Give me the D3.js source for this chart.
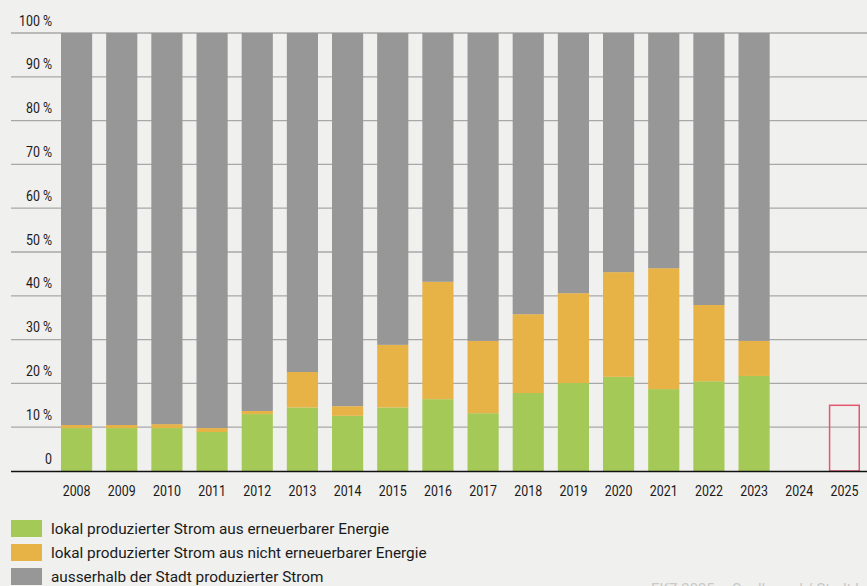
<!DOCTYPE html>
<html><head><meta charset="utf-8">
<script src="https://cdn.jsdelivr.net/npm/d3@7"></script>
<style>
html,body{margin:0;padding:0;background:#f0f0ef;}
svg{display:block;}
text{font-family:Roboto,"Liberation Sans",sans-serif;fill:#1a1a1a;}
</style></head>
<body>
<svg id="chart" width="867" height="586"></svg>
<script>
const years = ["2008","2009","2010","2011","2012","2013","2014","2015","2016","2017","2018","2019","2020","2021","2022","2023","2024","2025"];
const renewable    = [9.8, 9.8, 9.8, 8.9, 13.0, 14.5, 12.6, 14.5, 16.4, 13.2, 17.8, 20.1, 21.5, 18.7, 20.5, 21.7, null, null];
const nonRenewable = [0.7, 0.7, 0.9, 0.9, 0.7, 8.1, 2.2, 14.3, 26.8, 16.5, 18.0, 20.5, 23.9, 27.6, 17.4, 8.0, null, null];
const targetYears = ["2025"];
const targetValues = [15];
const yTicks = [0,10,20,30,40,50,60,70,80,90,100];
const seriesNames = ["lokal produzierter Strom aus erneuerbarer Energie","lokal produzierter Strom aus nicht erneuerbarer Energie","ausserhalb der Stadt produzierter Strom"];
const seriesColors = ["#a5c957","#e7b246","#979797"];
const sourceText = "EKZ 2025 – Quelle: ewl / Stadt Luzern";

const svg = d3.select("#chart");
const x = d3.scaleBand().domain(years).range([54, 867]).paddingInner(0.31).paddingOuter(0.155);
const y = d3.scaleLinear().domain([0,100]).range([471, 33]);

const numScale = 0.8, legScale = 0.99;

// gridlines
svg.append("g").selectAll("line").data(yTicks.filter(d=>d>0)).join("line")
  .attr("x1", 11).attr("x2", 867)
  .attr("y1", d=>y(d)).attr("y2", d=>y(d))
  .attr("stroke", "#a8a8a8").attr("stroke-width", 1.3);

// y labels
svg.append("g").selectAll("text").data(yTicks).join("text")
  .attr("transform", d=>`translate(52,${y(d)-7.5}) scale(${numScale},1)`)
  .attr("text-anchor","end").attr("font-size", 15.5)
  .text(d => d===0 ? "0" : d + " %");

// stacked data
const rows = years.map((yr,i)=>({year:yr, r:renewable[i], n:nonRenewable[i]})).filter(d=>d.r!==null);
const stackData = rows.map(d=>({year:d.year, s0:d.r, s1:d.n, s2:100-d.r-d.n}));
const stack = d3.stack().keys(["s0","s1","s2"]);
const layers = stack(stackData);
svg.append("g").selectAll("g").data(layers).join("g")
  .attr("fill", (d,i)=>seriesColors[i])
  .selectAll("rect").data(d=>d).join("rect")
  .attr("x", d=>x(d.data.year))
  .attr("width", x.bandwidth())
  .attr("y", d=>y(d[1]))
  .attr("height", d=>y(d[0])-y(d[1]));

// target boxes
svg.append("g").selectAll("rect").data(targetYears.map((t,i)=>({year:t, v:targetValues[i]}))).join("rect")
  .attr("x", d=>x(d.year)+0.75)
  .attr("width", x.bandwidth()-1.5)
  .attr("y", d=>y(d.v))
  .attr("height", d=>y(0)-y(d.v))
  .attr("fill","none").attr("stroke","#e5566f").attr("stroke-width",1.5);

// baseline
svg.append("line").attr("x1",11).attr("x2",867).attr("y1",y(0)+0.5).attr("y2",y(0)+0.5)
  .attr("stroke","#111").attr("stroke-width",1.6);

// x labels
svg.append("g").selectAll("text").data(years).join("text")
  .attr("transform", d=>`translate(${x(d)+x.bandwidth()/2},496) scale(${numScale},1)`)
  .attr("text-anchor","middle").attr("font-size", 15.5)
  .text(d=>d);

// legend
const lg = svg.append("g").selectAll("g").data(seriesNames).join("g")
  .attr("transform", (d,i)=>`translate(11,${520+i*24})`);
lg.append("rect").attr("width",31).attr("height",17).attr("fill",(d,i)=>seriesColors[i]);
lg.append("text").attr("transform",`translate(40,13.5) scale(${legScale},1)`).attr("font-size",15.5).text(d=>d);

// source (cut off at bottom edge like reference)
svg.append("text").attr("transform",`translate(651,594) scale(${legScale},1)`).attr("font-size",15).style("fill","#c9c9c6").text(sourceText);
</script>
</body></html>
